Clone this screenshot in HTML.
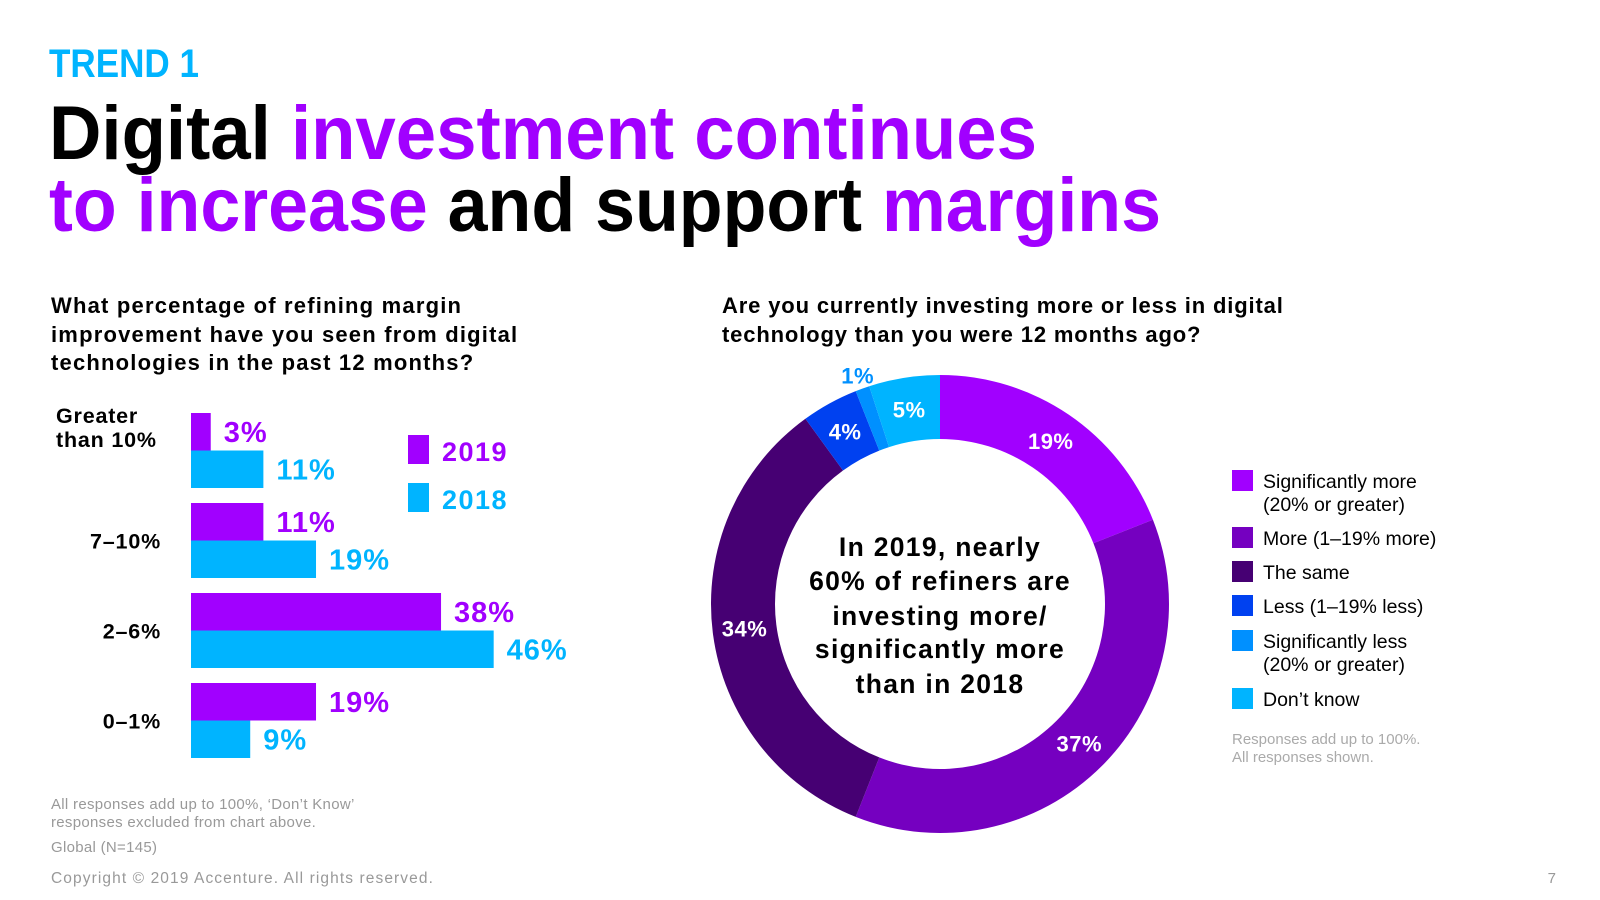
<!DOCTYPE html>
<html><head><meta charset="utf-8"><style>
html,body{margin:0;padding:0;background:#fff;}
svg{display:block;font-family:"Liberation Sans",sans-serif;}
</style></head><body>
<svg id="page" width="1600" height="900" viewBox="0 0 1600 900">
<text x="49" y="77" font-size="40" font-weight="bold" fill="#00b4ff" textLength="150" lengthAdjust="spacingAndGlyphs">TREND 1</text>
<text x="49" y="159" font-size="76" font-weight="bold" textLength="988" lengthAdjust="spacingAndGlyphs"><tspan fill="#000">Digital </tspan><tspan fill="#a100ff">investment continues</tspan></text>
<text x="49" y="231" font-size="76" font-weight="bold" textLength="1112" lengthAdjust="spacingAndGlyphs"><tspan fill="#a100ff">to increase </tspan><tspan fill="#000">and support </tspan><tspan fill="#a100ff">margins</tspan></text>

<g font-size="22" font-weight="bold" fill="#000" letter-spacing="1.2">
<text x="51" y="313">What percentage of refining margin</text>
<text x="51" y="342">improvement have you seen from digital</text>
<text x="51" y="370">technologies in the past 12 months?</text>
</g>
<g font-size="22" font-weight="bold" fill="#000" letter-spacing="0.85">
<text x="722" y="313">Are you currently investing more or less in digital</text>
<text x="722" y="342">technology than you were 12 months ago?</text>
</g>

<g id="bars"></g>
<g>
<rect x="408" y="435" width="21" height="29" fill="#a100ff"/>
<text x="442" y="461" font-size="27" font-weight="bold" fill="#a100ff" letter-spacing="1.5">2019</text>
<rect x="408" y="483" width="21" height="29" fill="#00b4ff"/>
<text x="442" y="509" font-size="27" font-weight="bold" fill="#00b4ff" letter-spacing="1.5">2018</text>
</g>

<g id="donut"></g>
<g font-size="26.5" font-weight="bold" fill="#000" text-anchor="middle" letter-spacing="1.3">
<text x="940" y="556">In 2019, nearly</text>
<text x="940" y="590">60% of refiners are</text>
<text x="940" y="625">investing more/</text>
<text x="940" y="658">significantly more</text>
<text x="940" y="693">than in 2018</text>
</g>
<g id="legend"></g>
<g font-size="15" fill="#aaa">
<text x="1232" y="744">Responses add up to 100%.</text>
<text x="1232" y="762">All responses shown.</text>
</g>
<g font-size="15" fill="#999" letter-spacing="0.3">
<text x="51" y="809">All responses add up to 100%, ‘Don’t Know’</text>
<text x="51" y="827">responses excluded from chart above.</text>
<text x="51" y="852">Global (N=145)</text>
</g>
<text x="51" y="883" font-size="15.5" fill="#999" letter-spacing="1.1">Copyright © 2019 Accenture. All rights reserved.</text>
<text x="1556" y="883" font-size="15" fill="#999" text-anchor="end">7</text>
</svg>
<script>
const categories = ["Greater than 10%", "7–10%", "2–6%", "0–1%"];
const values2019 = [3, 11, 38, 19];
const values2018 = [11, 19, 46, 9];
const donutLabels = ["Significantly more (20% or greater)", "More (1–19% more)", "The same", "Less (1–19% less)", "Significantly less (20% or greater)", "Don’t know"];
const donutValues = [19, 37, 34, 4, 1, 5];

const NS = "http://www.w3.org/2000/svg";
function mk(tag, attrs, parent) {
  const e = document.createElementNS(NS, tag);
  for (const k in attrs) e.setAttribute(k, attrs[k]);
  parent.appendChild(e);
  return e;
}
const P = "#a100ff", C = "#00b4ff";
const x0 = 191, pxPer = 6.58, rowTop = 413, pitch = 90, bh = 37.5;
const xScale = v => v * pxPer;
const bars = document.getElementById("bars");
categories.forEach((c, i) => {
  const y = rowTop + i * pitch;
  const lab = mk("text", {x: 161, "font-size": 21.5, "font-weight": "bold", fill: "#000", "text-anchor": "end", "letter-spacing": 0.8}, bars);
  
  
  if (c === "Greater than 10%") {
    lab.setAttribute("x", 56); lab.setAttribute("text-anchor", "start");
    mk("tspan", {x: 56, y: y + 10}, lab).textContent = "Greater";
    mk("tspan", {x: 56, y: y + 34}, lab).textContent = "than 10%";
  } else {
    lab.setAttribute("y", y + bh + 8);
    lab.textContent = c;
  }
  [[values2019[i], P, 0], [values2018[i], C, 1]].forEach(([v, col, k]) => {
    const by = y + k * bh;
    const r = mk("rect", {x: x0, y: by, width: xScale(v), height: bh, fill: col}, bars);
    
    
    const t = mk("text", {x: x0 + xScale(v) + 13, y: by + 29, "font-size": 29, "font-weight": "bold", fill: col, "letter-spacing": 1}, bars);
    
    
    t.textContent = v + "%";
  });
});

const colors = ["#a100ff", "#7500c0", "#460073", "#0041f0", "#0090ff", "#00b4ff"];
const cx = 940, cy = 604, R = 229, r0 = 165;
const total = donutValues.reduce((a, b) => a + b, 0);
const donut = document.getElementById("donut");
let acc = 0;
const pt = (a, rad) => [cx + rad * Math.sin(a), cy - rad * Math.cos(a)];
donutValues.forEach((v, i) => {
  const a0 = acc / total * 2 * Math.PI; acc += v;
  const a1 = acc / total * 2 * Math.PI;
  const large = a1 - a0 > Math.PI ? 1 : 0;
  const [x1, y1] = pt(a0, R), [x2, y2] = pt(a1, R), [x3, y3] = pt(a1, r0), [x4, y4] = pt(a0, r0);
  const p = mk("path", {d: `M${x1},${y1} A${R},${R} 0 ${large} 1 ${x2},${y2} L${x3},${y3} A${r0},${r0} 0 ${large} 0 ${x4},${y4} Z`, fill: colors[i]}, donut);
  
  
  const am = (a0 + a1) / 2;
  let [lx, ly] = pt(am, (R + r0) / 2);
  if (v < 2) { [lx, ly] = pt(am, R + 14); }
  const t = mk("text", {x: lx, y: ly + 8, "font-size": 22, "font-weight": "bold", fill: v < 2 ? "#0090ff" : "#fff", "text-anchor": "middle", "letter-spacing": 0.5}, donut);
  
  
  t.textContent = v + "%";
});

const legend = document.getElementById("legend");
const legY = [470, 527, 561, 595, 630, 688];
donutLabels.forEach((l, i) => {
  const s = mk("rect", {x: 1232, y: legY[i], width: 21, height: 21, fill: colors[i]}, legend);
  
  
  const t = mk("text", {x: 1263, y: legY[i] + 18, "font-size": 19.5, fill: "#000"}, legend);
  
  
  const m = l.match(/^(.*) (\(20% or greater\))$/);
  if (m) {
    mk("tspan", {x: 1263}, t).textContent = m[1];
    mk("tspan", {x: 1263, dy: 23}, t).textContent = m[2];
  } else t.textContent = l;
});
</script>
</body></html>
